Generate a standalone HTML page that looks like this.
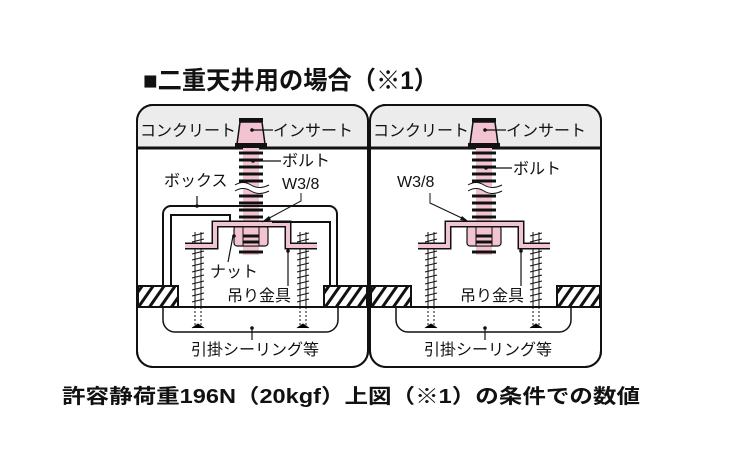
<!DOCTYPE html>
<html><head><meta charset="utf-8"><style>
html,body{margin:0;padding:0;background:#fff}
svg{display:block}
text{font-family:"Liberation Sans","Noto Sans CJK JP",sans-serif;fill:#111}
</style></head><body>
<svg width="750" height="450" viewBox="0 0 750 450" xmlns="http://www.w3.org/2000/svg">
<defs>
<pattern id="h" width="9" height="9" patternUnits="userSpaceOnUse" patternTransform="rotate(35)">
<rect width="9" height="9" fill="#fff"/><rect x="0" width="3" height="9" fill="#111"/></pattern>
<g id="panel">
 <rect x="137" y="105" width="231" height="262" rx="16" fill="#fff" stroke="#111" stroke-width="2"/>
 <path d="M137 148 V121 a16 16 0 0 1 16 -16 H352 a16 16 0 0 1 16 16 V148 Z" fill="#ececec"/>
 <rect x="137" y="105" width="231" height="262" rx="16" fill="none" stroke="#111" stroke-width="2"/>
 <line x1="137" y1="148" x2="368" y2="148" stroke="#111" stroke-width="3"/>
 <path d="M163 307 V320 a12 12 0 0 0 12 12 H326 a12 12 0 0 0 12 -12 V307" fill="#fff" stroke="#111" stroke-width="1.5"/>
 <line x1="137" y1="307" x2="368" y2="307" stroke="#111" stroke-width="2"/>
 <rect x="138" y="286" width="40" height="21" fill="url(#h)" stroke="#111" stroke-width="2"/>
 <rect x="324" y="286" width="43" height="21" fill="url(#h)" stroke="#111" stroke-width="2"/>
 <g stroke="#111" stroke-width="1">
  <line x1="195" y1="232" x2="195" y2="307"/><line x1="201" y1="232" x2="201" y2="307"/>
  <line x1="300" y1="232" x2="300" y2="307"/><line x1="306" y1="232" x2="306" y2="307"/>
  <path d="M195 307 V325 M201 307 V325 M300 307 V325 M306 307 V325" stroke-dasharray="2 2"/>
  <path d="M192 328 L198 324 L204 328 M297 328 L303 324 L309 328"/>
  <path d="M192 236 l12 -3 M192 242 l12 -3 M192 248 l12 -3 M192 254 l12 -3 M192 260 l12 -3 M192 266 l12 -3 M192 272 l12 -3 M192 278 l12 -3 M192 284 l12 -3 M192 290 l12 -3 M192 296 l12 -3 M192 302 l12 -3"/>
  <path d="M297 236 l12 -3 M297 242 l12 -3 M297 248 l12 -3 M297 254 l12 -3 M297 260 l12 -3 M297 266 l12 -3 M297 272 l12 -3 M297 278 l12 -3 M297 284 l12 -3 M297 290 l12 -3 M297 296 l12 -3 M297 302 l12 -3"/>
 </g>
 <path d="M240 122 H262 L265 144 H237 Z" fill="#f2c3d0" stroke="#111" stroke-width="1.5"/>
 <rect x="239" y="118" width="24" height="4" fill="#111"/>
 <rect x="235" y="143" width="32" height="4" fill="#111"/>
 <rect x="243" y="148" width="16" height="107" fill="#f2c3d0"/>
 <g stroke="#111" stroke-width="3">
  <path d="M239 153 h24 M239 160 h24 M239 167 h24 M239 174 h24 M239 181 h24 M239 196 h24 M239 203 h24 M239 210 h24 M239 217 h24 M239 224 h24 M239 231 h24 M239 238 h24 M239 245 h24 M239 252 h24"/>
 </g>
 <path d="M235 188 q8 -5 16 0 t18 0" fill="none" stroke="#fff" stroke-width="6"/>
 <path d="M235 185 q8 -5 16 0 t18 0 M235 191 q8 -5 16 0 t18 0" fill="none" stroke="#111" stroke-width="1"/>
 <rect x="234" y="226" width="34" height="20" rx="3" fill="#f2c3d0" stroke="#111" stroke-width="1.2"/>
 <rect x="243" y="226" width="16" height="20" fill="#f2c3d0" stroke="#111" stroke-width="1"/>
 <path d="M243 236 h16 M243 242 h16" stroke="#111" stroke-width="3"/>
 <path d="M185 246 H215 V224 H288 V246 H317" fill="none" stroke="#111" stroke-width="7" stroke-linejoin="miter"/>
 <path d="M185 246 H215 V224 H288 V246 H317" fill="none" stroke="#f2c3d0" stroke-width="4" stroke-linejoin="miter"/>
 <text x="140" y="136" font-size="16">コンクリート</text>
 <text x="273" y="136" font-size="16">インサート</text>
 <line x1="252" y1="130" x2="273" y2="130" stroke="#111" stroke-width="1.2"/>
 <circle cx="252" cy="130" r="1.8" fill="#111"/>
 <text x="191" y="355" font-size="16">引掛シーリング等</text>
 <line x1="252" y1="328" x2="252" y2="340" stroke="#111" stroke-width="1.2"/>
 <circle cx="252" cy="328" r="1.8" fill="#111"/>
 <text x="227" y="301" font-size="16">吊り金具</text>
 <line x1="288" y1="251" x2="288" y2="286" stroke="#111" stroke-width="1.2"/>
 <circle cx="288" cy="251" r="1.8" fill="#111"/>
</g>
</defs>

<text x="143" y="89" font-size="25" font-weight="bold" textLength="295" lengthAdjust="spacingAndGlyphs">■二重天井用の場合（※1）</text>

<use href="#panel"/>
<use href="#panel" transform="translate(233,0)"/>

<path d="M163 285 V214 a8 8 0 0 1 8 -8 H329 a8 8 0 0 1 8 8 V285" fill="none" stroke="#111" stroke-width="2"/>
<path d="M171 285 V215 H230 V222 M272 222 H330 V285" fill="none" stroke="#111" stroke-width="2"/>
<line x1="197" y1="196" x2="197" y2="206" stroke="#111" stroke-width="1.2"/>
<circle cx="197" cy="206" r="1.8" fill="#111"/>
<text x="164" y="186" font-size="16">ボックス</text>
<text x="282" y="166" font-size="16">ボルト</text>
<line x1="253" y1="161" x2="281" y2="161" stroke="#111" stroke-width="1.2"/>
<circle cx="253" cy="161" r="1.8" fill="#111"/>
<text x="282" y="189" font-size="16">W3/8</text>
<path d="M301 193 V201 L262 222" fill="none" stroke="#111" stroke-width="1"/>
<path d="M262 222 l7 -6 l2 4 z" fill="#111"/>
<text x="210" y="277" font-size="16">ナット</text>
<line x1="233" y1="236" x2="228" y2="262" stroke="#111" stroke-width="1.2"/>
<circle cx="234" cy="236" r="1.8" fill="#111"/>

<text x="513" y="174" font-size="16">ボルト</text>
<line x1="486" y1="168" x2="512" y2="168" stroke="#111" stroke-width="1.2"/>
<circle cx="486" cy="168" r="1.8" fill="#111"/>
<text x="397" y="187" font-size="16">W3/8</text>
<path d="M430 193 V203 L466 220" fill="none" stroke="#111" stroke-width="1"/>
<path d="M468 221 l-8 -1 l2 -4 z" fill="#111"/>

<text x="62" y="403" font-size="20" font-weight="bold" textLength="578" lengthAdjust="spacingAndGlyphs">許容静荷重196N（20kgf）上図（※1）の条件での数値</text>
</svg>
</body></html>
